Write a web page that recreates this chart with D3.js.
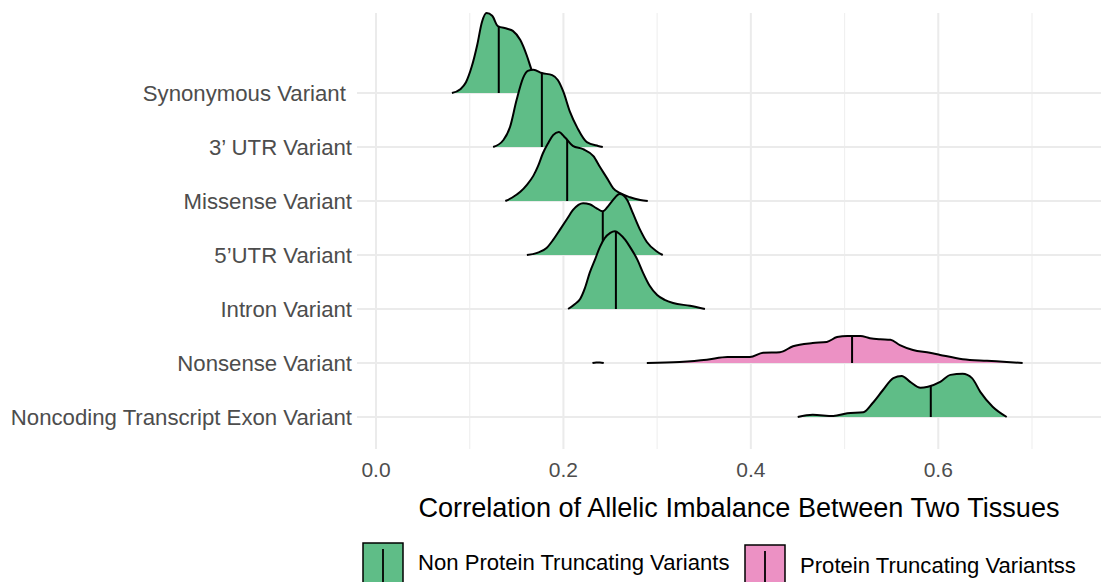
<!DOCTYPE html>
<html>
<head>
<meta charset="utf-8">
<script src="https://cdn.jsdelivr.net/npm/d3@7"></script>
<style>
  body { margin: 0; background: #fff; }
  text { font-family: "Liberation Sans", Arial, sans-serif; }
</style>
</head>
<body>
<div id="chart"></div>
<script>
// categories, top to bottom
var categories = ["Synonymous Variant ", "3\u2019 UTR Variant", "Missense Variant", "5\u2019UTR Variant",
                  "Intron Variant", "Nonsense Variant", "Noncoding Transcript Exon Variant"];
var groups = ["Non Protein Truncating Variants", "Protein Truncating Variantss"];
var rowGroup = [0, 0, 0, 0, 0, 1, 0];
var medians = [0.131, 0.177, 0.204, 0.242, 0.256, 0.508, 0.592];
var xTicks = [0, 0.2, 0.4, 0.6];
var xMinor = [0.1, 0.3, 0.5, 0.7];

// density curves (x value, height in row units)
var synX = [0.081, 0.090, 0.096, 0.102, 0.108, 0.113, 0.118, 0.124, 0.130, 0.140, 0.146, 0.154, 0.161, 0.166, 0.173, 0.180, 0.188, 0.194];
var synH = [0, 0.07, 0.20, 0.48, 0.89, 1.31, 1.48, 1.43, 1.24, 1.19, 1.15, 0.98, 0.69, 0.43, 0.20, 0.07, 0.02, 0];
var utr3X = [0.125, 0.136, 0.143, 0.150, 0.157, 0.162, 0.168, 0.177, 0.188, 0.194, 0.200, 0.207, 0.215, 0.225, 0.237, 0.242];
var utr3H = [0, 0.13, 0.37, 0.87, 1.28, 1.41, 1.43, 1.37, 1.33, 1.24, 1.02, 0.65, 0.35, 0.09, 0.02, 0];
var misX = [0.138, 0.145, 0.154, 0.161, 0.168, 0.173, 0.178, 0.184, 0.189, 0.195, 0.202, 0.210, 0.221, 0.232, 0.239, 0.247, 0.253, 0.260, 0.271, 0.282, 0.290];
var misH = [0, 0.06, 0.17, 0.30, 0.47, 0.65, 0.88, 1.08, 1.22, 1.28, 1.17, 1.02, 0.96, 0.83, 0.63, 0.41, 0.24, 0.15, 0.07, 0.02, 0];
var utr5X = [0.161, 0.172, 0.182, 0.189, 0.196, 0.204, 0.210, 0.216, 0.221, 0.228, 0.235, 0.242, 0.248, 0.253, 0.260, 0.268, 0.274, 0.282, 0.289, 0.300, 0.306];
var utr5H = [0, 0.04, 0.13, 0.28, 0.46, 0.67, 0.83, 0.93, 0.96, 0.94, 0.87, 0.81, 0.91, 1.02, 1.13, 1.02, 0.78, 0.46, 0.24, 0.06, 0];
var intX = [0.205, 0.212, 0.218, 0.223, 0.228, 0.234, 0.239, 0.244, 0.250, 0.255, 0.260, 0.266, 0.271, 0.279, 0.285, 0.292, 0.300, 0.308, 0.317, 0.335, 0.351];
var intH = [0, 0.09, 0.19, 0.39, 0.67, 0.93, 1.15, 1.31, 1.41, 1.44, 1.39, 1.28, 1.15, 0.91, 0.67, 0.43, 0.26, 0.17, 0.11, 0.06, 0];
var nonDashX = [0.231, 0.235, 0.239, 0.243];
var nonDashH = [0, 0.01, 0.01, 0];
var nonX = [0.289, 0.324, 0.353, 0.375, 0.399, 0.413, 0.431, 0.445, 0.466, 0.481, 0.492, 0.503, 0.517, 0.527, 0.538, 0.549, 0.559, 0.573, 0.591, 0.602, 0.626, 0.652, 0.673, 0.690];
var nonH = [0, 0.02, 0.06, 0.11, 0.11, 0.19, 0.20, 0.31, 0.37, 0.39, 0.48, 0.50, 0.50, 0.46, 0.44, 0.43, 0.33, 0.24, 0.19, 0.15, 0.07, 0.04, 0.02, 0];
var ncX = [0.450, 0.466, 0.488, 0.503, 0.520, 0.530, 0.541, 0.552, 0.561, 0.570, 0.581, 0.589, 0.602, 0.613, 0.626, 0.636, 0.645, 0.658, 0.673];
var ncH = [0, 0.04, 0.02, 0.07, 0.09, 0.26, 0.50, 0.72, 0.76, 0.65, 0.54, 0.56, 0.65, 0.78, 0.80, 0.72, 0.46, 0.19, 0];

var curves = [
  [[synX, synH]],
  [[utr3X, utr3H]],
  [[misX, misH]],
  [[utr5X, utr5H]],
  [[intX, intH]],
  [[nonDashX, nonDashH], [nonX, nonH]],
  [[ncX, ncH]]
];

var colors = ["#5fbd87", "#ec91c4"];

var width = 1101, height = 582;
var svg = d3.select("#chart").append("svg")
    .attr("width", width).attr("height", height);

var panel = {left: 357, right: 1101, top: 13, bottom: 449};

var x = d3.scaleLinear().domain([0, 0.7]).range([376, 1032]);
var y = d3.scalePoint().domain(categories).range([93, 417]);
var step = y.step();
var h = d3.scaleLinear().domain([0, 1]).range([0, step]);

// grid
var grid = svg.append("g");
grid.selectAll(".minor").data(xMinor).enter().append("line")
    .attr("x1", d => x(d)).attr("x2", d => x(d))
    .attr("y1", panel.top).attr("y2", panel.bottom)
    .attr("stroke", "#f0f0f0").attr("stroke-width", 1.2);
grid.selectAll(".major").data(xTicks).enter().append("line")
    .attr("x1", d => x(d)).attr("x2", d => x(d))
    .attr("y1", panel.top).attr("y2", panel.bottom)
    .attr("stroke", "#ebebeb").attr("stroke-width", 2);
grid.selectAll(".hline").data(categories).enter().append("line")
    .attr("x1", panel.left).attr("x2", panel.right)
    .attr("y1", d => y(d)).attr("y2", d => y(d))
    .attr("stroke", "#ebebeb").attr("stroke-width", 2);

// ridges, top row first so lower rows sit on top
categories.forEach(function(cat, i) {
  var base = y(cat);
  var g = svg.append("g");
  var area = d3.area().curve(d3.curveMonotoneX)
      .x(d => x(d[0])).y0(base).y1(d => base - h(d[1]));
  var line = d3.line().curve(d3.curveMonotoneX)
      .x(d => x(d[0])).y(d => base - h(d[1]));
  var clip = svg.append("clipPath").attr("id", "clip" + i);
  curves[i].forEach(function(seg) {
    var pts = seg[0].map((v, k) => [v, seg[1][k]]);
    g.append("path").attr("d", area(pts))
        .attr("fill", colors[rowGroup[i]]);
    clip.append("path").attr("d", area(pts));
    g.append("path").attr("d", line(pts))
        .attr("fill", "none").attr("stroke", "#000")
        .attr("stroke-width", 2).attr("stroke-linejoin", "round");
  });
  g.append("line")
      .attr("x1", x(medians[i])).attr("x2", x(medians[i]))
      .attr("y1", base).attr("y2", base - h(2))
      .attr("stroke", "#000").attr("stroke-width", 2)
      .attr("clip-path", "url(#clip" + i + ")");
});

// y labels
svg.append("g").selectAll("text").data(categories).enter().append("text")
    .attr("x", 352).attr("y", d => y(d) + 8)
    .attr("text-anchor", "end")
    .attr("font-size", 22.2).attr("fill", "#4d4d4d")
    .style("white-space", "pre")
    .text(d => d);

// x tick labels
svg.append("g").selectAll("text").data(xTicks).enter().append("text")
    .attr("x", d => x(d)).attr("y", 477)
    .attr("text-anchor", "middle")
    .attr("font-size", 21).attr("fill", "#4d4d4d")
    .text(d => d3.format(".1f")(d));

// axis title
svg.append("text")
    .attr("x", 739).attr("y", 517)
    .attr("text-anchor", "middle")
    .attr("font-size", 27.1).attr("fill", "#000")
    .text("Correlation of Allelic Imbalance Between Two Tissues");

// legend
var legendX = [363, 745], legendTop = [543, 545], legendText = [570, 573];
groups.forEach(function(name, i) {
  var lg = svg.append("g");
  lg.append("rect")
      .attr("x", legendX[i]).attr("y", legendTop[i])
      .attr("width", 40).attr("height", 44)
      .attr("fill", colors[i]).attr("stroke", "#000").attr("stroke-width", 1.5);
  lg.append("line")
      .attr("x1", legendX[i] + 20).attr("x2", legendX[i] + 20)
      .attr("y1", legendTop[i] + 6).attr("y2", 582)
      .attr("stroke", "#000").attr("stroke-width", 1.8);
  lg.append("text")
      .attr("x", legendX[i] + 55).attr("y", legendText[i])
      .attr("font-size", 22.1).attr("fill", "#000")
      .text(name);
});
</script>
</body>
</html>
